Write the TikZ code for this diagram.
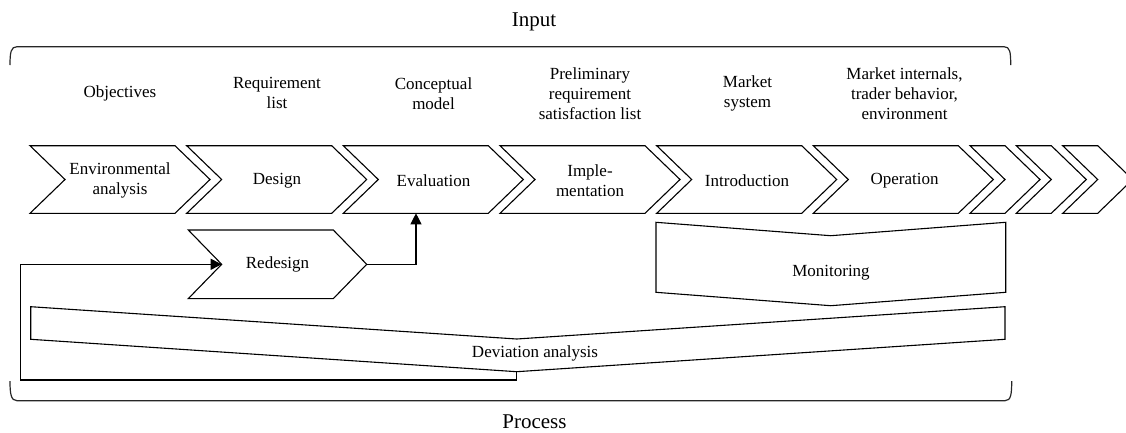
\documentclass[tikz,border=0pt]{standalone}
\usepackage{fontspec}
\setmainfont{Liberation Serif}
\usetikzlibrary{arrows.meta}

% chevron outline: #1 left x, #2 x of the top right corner, #3 top y, #4 bottom y, #5 point depth
\newcommand\chevshape[5]{%
  \draw[outline] (#1,#3) -- (#2,#3) -- ({#2+#5},{(#3+#4)/2}) -- (#2,#4)
    -- (#1,#4) -- ({#1+#5},{(#3+#4)/2}) -- cycle;}

\begin{document}
\begin{tikzpicture}[x=1pt,y=-1pt,
  outline/.style={draw=black,line width=1.1pt,line join=miter},
  bracket/.style={draw=black!85,line width=1.2pt},
  lbl/.style={font=\fontsize{17}{20}\selectfont,align=center,inner sep=0pt},
  title/.style={font=\fontsize{21}{25}\selectfont,inner sep=0pt},
  conn/.style={draw=black,line width=1.1pt,-{Triangle[length=11pt,width=11pt]}}]
\useasboundingbox (0,0) rectangle (1126,432);

% headings
\node[title] (input) at (534,21.7) {Input};
\node[title] (process) at (534.5,421.5) {Process};

% brackets around the input row and the process area
\draw[bracket] (10,65) .. controls (10,52) and (11,46.7) .. (17,46.7)
  -- (1004,46.7) .. controls (1010,46.7) and (1010.7,52) .. (1010.7,65);
\draw[bracket] (10,381) .. controls (10,394) and (11,400.7) .. (17,400.7)
  -- (1005,400.7) .. controls (1011,400.7) and (1011.7,394) .. (1011.7,381);

% inputs of each phase
\node[lbl] (in1) at (120,93.3) {Objectives};
\node[lbl] (in2) at (277,93.3) {Requirement\\list};
\node[lbl] (in3) at (433.5,93.3) {Conceptual\\model};
\node[lbl] (in4) at (590,93.3) {Preliminary\\requirement\\satisfaction list};
\node[lbl] (in5) at (747.5,93.3) {Market\\system};
\node[lbl] (in6) at (904.5,93.3) {Market internals,\\trader behavior,\\environment};

% phase chevrons
\chevshape{30}{175}{145.7}{213.3}{35}
\chevshape{186.7}{331.7}{145.7}{213.3}{35}
\chevshape{343.3}{488.3}{145.7}{213.3}{35}
\chevshape{500}{645}{145.7}{213.3}{35}
\chevshape{656.7}{801.7}{145.7}{213.3}{35}
\chevshape{813.3}{958.3}{145.7}{213.3}{35}
\chevshape{970}{1005}{145.7}{213.3}{35}
\chevshape{1016.3}{1051.3}{145.7}{213.3}{35}
\chevshape{1062.7}{1097.7}{145.7}{213.3}{35}
\node[lbl] (envan) at (120,180.5) {Environmental\\analysis};
\node[lbl] (design) at (277,180.5) {Design};
\node[lbl] (evaluation) at (433.5,180.5) {Evaluation};
\node[lbl] (implementation) at (590,180.5) {Imple-\\mentation};
\node[lbl] (introduction) at (747,180.5) {Introduction};
\node[lbl] (operation) at (904.5,180.5) {Operation};

% redesign loop
\chevshape{188.3}{333.3}{230}{298.6}{33.4}
\node[lbl] (redesign) at (277.5,264.3) {Redesign};

% monitoring block
\draw[outline] (656,222.3) -- (830.7,235.7) -- (1005.7,222.3) -- (1005.7,292.3)
  -- (830.7,305.7) -- (656,292.3) -- cycle;
\node[lbl] (monitoring) at (831,272.7) {Monitoring};

% deviation analysis block
\draw[outline] (30.7,306.7) -- (516.7,339) -- (1005,306.7) -- (1005,339.3)
  -- (516.7,371.7) -- (30.7,339.3) -- cycle;
\node[lbl] (deviation) at (535,353.3) {Deviation analysis};

% connector end points
\coordinate (redesignTip) at (366.7,264.3);
\coordinate (redesignIn) at (221.7,264.3);
\coordinate (evalIn) at (416,213.3);
\coordinate (devOut) at (516.7,371.7);
\coordinate (loopCorner) at (20.7,380);

% connectors
\draw[conn] (redesignTip) -| (evalIn);
\draw[conn] (devOut) |- (loopCorner) |- (redesignIn);
\end{tikzpicture}
\end{document}
